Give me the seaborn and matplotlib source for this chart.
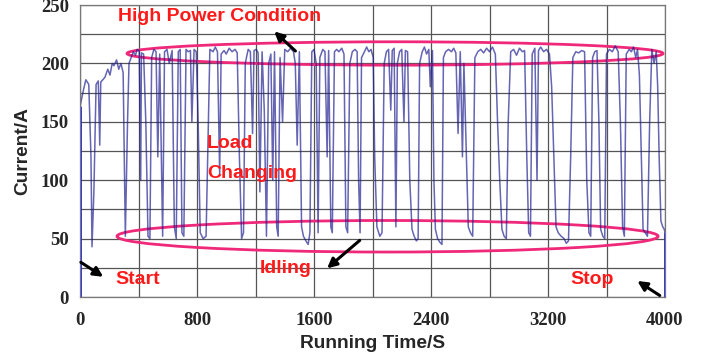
import numpy as np
import pandas as pd
import matplotlib
matplotlib.use("Agg")
import matplotlib.pyplot as plt
from matplotlib.patches import Ellipse
import seaborn as sns

# ---- data (time in s, current in A) ----
time_s = [
    0, 25, 40, 60, 75, 82, 95, 110, 125, 135, 142, 170, 190, 205, 220, 232, 250, 265, 280, 295,
    310, 325, 335, 350, 365, 380, 390, 405, 415, 420, 435, 450, 465, 478,
    490, 505, 520, 532, 545, 565, 578, 595, 610, 630, 645, 658, 672, 685, 697, 710, 725, 740,
    755, 765, 780, 795, 808, 822, 842, 862, 875, 888, 910, 925, 940, 955, 965, 985,
    1000, 1020, 1040, 1060, 1075, 1090, 1105, 1118, 1130, 1150, 1165, 1180, 1190, 1205, 1218,
    1230, 1245, 1260, 1275, 1290, 1305, 1318, 1330, 1345, 1355, 1368, 1385, 1400, 1420, 1440,
    1460, 1472, 1485, 1500, 1515, 1528, 1545, 1560, 1572,
    1585, 1600, 1615, 1628, 1640, 1660, 1675, 1690, 1700, 1715, 1725, 1740, 1755, 1770, 1790,
    1805, 1818, 1830, 1845, 1862, 1880, 1895, 1905, 1915, 1925, 1945, 1960, 1975, 1990, 2005, 2015,
    2030, 2050, 2065, 2080, 2095, 2110, 2125, 2135, 2148, 2160, 2170, 2185, 2200, 2215, 2225,
    2240, 2255, 2270, 2285, 2300, 2312, 2322, 2340, 2355, 2370, 2385, 2395, 2410, 2420, 2430,
    2445, 2460, 2475, 2485,
    2500, 2520, 2540, 2555, 2570, 2585, 2600, 2615, 2625, 2640, 2655, 2670, 2685, 2700, 2720,
    2740, 2760, 2780, 2800, 2820, 2840, 2855, 2870, 2885, 2900, 2915, 2928, 2945, 2965, 2985,
    3005, 3025,
    3040, 3055, 3068, 3080, 3092, 3110, 3125, 3135, 3150, 3170, 3190, 3210, 3225, 3240, 3255,
    3270, 3290, 3310, 3325, 3340, 3355, 3370, 3390, 3410, 3430, 3450, 3465, 3480, 3492, 3505,
    3520, 3535, 3548, 3560, 3575, 3588, 3600, 3620, 3640, 3660, 3680, 3695, 3710, 3722, 3735,
    3755, 3770, 3785, 3800, 3812, 3825, 3838, 3850, 3865, 3880, 3895, 3910, 3925, 3940, 3950,
    3960, 3972, 3985, 3995, 4000,
]
current_a = [
    163, 178, 186, 182, 120, 43, 90, 182, 185, 130, 184, 188, 195, 190, 200, 198, 203, 195, 200, 192,
    52, 150, 200, 205, 210, 207, 212, 211, 100, 209, 208, 150, 52, 50,
    205, 212, 210, 120, 208, 52, 210, 212, 200, 211, 60, 50, 210, 212, 55, 52, 212, 210,
    211, 150, 212, 210, 150, 55, 50, 52, 130, 212, 210, 214, 210, 105, 208, 211,
    208, 213, 210, 212, 209, 120, 50, 55, 200, 212, 210, 140, 211, 212, 209,
    90, 210, 160, 52, 200, 208, 100, 210, 60, 52, 205, 150, 212, 210, 213,
    210, 200, 130, 210, 60, 52, 48, 45, 55,
    210, 212, 200, 55, 205, 212, 210, 120, 211, 60, 55, 210, 212, 210, 213,
    208, 60, 55, 200, 210, 212, 210, 100, 55, 205, 210, 214, 210, 212, 205, 120,
    60, 52, 55, 200, 210, 212, 160, 211, 213, 60, 200, 210, 212, 150, 211,
    210, 100, 58, 52, 48, 50, 200, 210, 214, 208, 212, 180, 211, 100, 58,
    50, 47, 45, 205,
    210, 212, 210, 213, 209, 140, 210, 120, 200, 130, 60, 55, 52, 205, 210,
    212, 209, 213, 210, 214, 208, 150, 100, 58, 52, 50, 150, 210, 212, 207,
    213, 210,
    211, 120, 55, 52, 208, 213, 100, 211, 214, 210, 212, 208, 180, 120, 60,
    55, 52, 50, 46, 48, 120, 205, 210, 209, 211, 210, 100, 55, 52, 205,
    210, 211, 150, 58, 52, 50, 208, 212, 210, 215, 210, 150, 60, 52, 208,
    212, 210, 214, 205, 212, 190, 120, 58, 55, 52, 150, 212, 200, 210, 180,
    120, 65, 60, 58, 55,
]
start_time = [0, 0]
start_current = [0, 163]
stop_time = [4000, 4000]
stop_current = [55, 0]

x_major = [0, 800, 1600, 2400, 3200, 4000]
x_minor = [400, 1200, 2000, 2800, 3600]
y_major = [0, 50, 100, 150, 200, 250]
y_minor = [25, 75, 125, 175, 225]

df = pd.DataFrame({"t": time_s, "i": current_a})

sns.set_style("white")
plt.rcParams["font.family"] = ["Liberation Sans", "DejaVu Sans"]

fig = plt.figure(figsize=(7.13, 3.6), dpi=100)
ax = fig.add_axes([80 / 713, 1 - 297 / 360, 585 / 713, 292 / 360])

sns.lineplot(data=df, x="t", y="i", estimator=None, sort=False, ax=ax,
             color="#1c1c8f", lw=1.1, alpha=0.68)
sns.lineplot(x=start_time, y=start_current, estimator=None, sort=False, ax=ax,
             color="#1a1aff", lw=2.0)
sns.lineplot(x=stop_time, y=stop_current, estimator=None, sort=False, ax=ax,
             color="#1a1aff", lw=2.0)

ax.set_xlim(0, 4000)
ax.set_ylim(0, 250)
ax.set_xticks(x_major)
ax.set_xticks(x_minor, minor=True)
ax.set_yticks(y_major)
ax.set_yticks(y_minor, minor=True)
ax.set_xticklabels([str(v) for v in x_major])
ax.set_yticklabels([str(v) for v in y_major])
ax.grid(True, which="both", color="#555555", lw=0.9)
ax.set_axisbelow(True)
ax.tick_params(axis="x", which="both", length=0, pad=11)
ax.tick_params(axis="y", which="both", length=0, pad=8)
for lab in ax.get_xticklabels() + ax.get_yticklabels():
    lab.set_fontfamily("Liberation Serif")
    lab.set_fontweight("bold")
    lab.set_fontsize(13.5)
for s in ax.spines.values():
    s.set_color("#777777")
    s.set_linewidth(0.9)

ax.set_xlabel("Running Time/S", fontsize=13.8, fontweight="bold", labelpad=4)
ax.set_ylabel("Current/A", fontsize=13.8, fontweight="bold", labelpad=7)

pink = "#f0287a"
ax.add_patch(Ellipse((2154, 208.5), 3665, 20, fill=False, ec=pink, lw=2.0))
ax.add_patch(Ellipse((2103, 52), 3700, 27, fill=False, ec=pink, lw=2.0))

red = "#ff1a1a"
tkw = dict(color=red, fontsize=14, fontweight="bold", ha="left", va="center")
ax.text(260, 240, "High Power Condition", **tkw)
ax.text(870, 131, "Load", **tkw)
ax.text(870, 106, "Changing", **tkw)
ax.text(245, 15, "Start", **tkw)
ax.text(1230, 24, "Idling", **tkw)
ax.text(3350, 15, "Stop", **tkw)

akw = dict(arrowstyle="-|>", color="black", lw=2.2, mutation_scale=14)
ax.annotate("", xy=(1314, 229), xytext=(1487, 209), arrowprops=akw)
ax.annotate("", xy=(175, 16), xytext=(-10, 31), arrowprops=akw, annotation_clip=False)
ax.annotate("", xy=(1675, 23), xytext=(1927, 50), arrowprops=akw)
ax.annotate("", xy=(3795, 15), xytext=(3980, 0), arrowprops=akw, annotation_clip=False)

fig.savefig("out.png", dpi=100)
